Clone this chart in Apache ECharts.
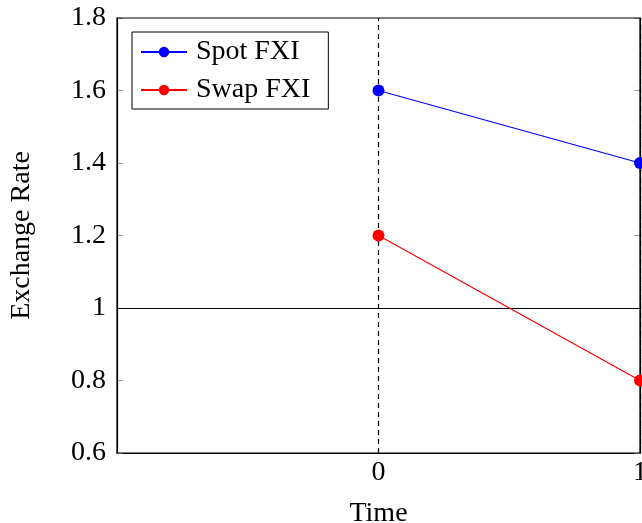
<!DOCTYPE html>
<html>
<head>
<meta charset="utf-8">
<script src="https://cdn.jsdelivr.net/npm/echarts@6/dist/echarts.min.js"></script>
<style>
html, body { margin: 0; padding: 0; background: #fff; }
#chart { width: 642px; height: 523px; }
</style>
</head>
<body>
<div id="chart"></div>
<script>
// data
const timePoints = [0, 1];
const spotFxi = [1.6, 1.4];
const swapFxi = [1.2, 0.8];
const eventTimes = [0, 1];
const parityLevel = 1;
const xTicks = [0, 1];

document.addEventListener('DOMContentLoaded', function () {
    const chart = echarts.init(document.getElementById('chart'));
    const font = '"Liberation Serif", "DejaVu Serif", serif';
    const fs = 28;

    const pairs = vals => timePoints.map((t, i) => [t, vals[i]]);

    chart.setOption({
        animation: false,
        textStyle: { fontFamily: font },
        grid: { left: 117, right: 2, top: 18, bottom: 70, containLabel: false, outerBoundsMode: 'none' },
        legend: {
            left: 132, top: 32,
            orient: 'vertical',
            backgroundColor: '#fff',
            borderColor: '#000', borderWidth: 1, borderRadius: 0,
            padding: [6, 18, 5, 8],
            itemGap: 10,
            itemWidth: 46, itemHeight: 13,
            textStyle: { fontFamily: font, fontSize: fs, color: '#000', padding: [0, 0, 0, 4] },
            data: ['Spot FXI', 'Swap FXI']
        },
        xAxis: {
            type: 'value', min: -1, max: 1, interval: 1,
            name: 'Time', nameLocation: 'middle', nameGap: 47,
            nameTextStyle: { fontFamily: font, fontSize: fs, color: '#000' },
            axisLine: { onZero: false, lineStyle: { color: '#000', width: 1.2 } },
            axisTick: { show: false },
            splitLine: { show: false },
            axisLabel: {
                fontFamily: font, fontSize: fs, color: '#000', margin: 6,
                formatter: v => xTicks.includes(v) ? String(v) : ''
            }
        },
        yAxis: [{
            type: 'value', min: 0.6, max: 1.8, interval: 0.2,
            name: 'Exchange Rate', nameLocation: 'middle', nameGap: 81,
            nameTextStyle: { fontFamily: font, fontSize: fs, color: '#000' },
            axisLine: { onZero: false, lineStyle: { color: '#000', width: 1.2 } },
            axisTick: { inside: true, length: 6, lineStyle: { color: '#999' } },
            splitLine: { show: false },
            axisLabel: {
                fontFamily: font, fontSize: fs, color: '#000', margin: 11,
                formatter: v => String(Math.round(v * 10) / 10)
            }
        }, {
            type: 'value', min: 0.6, max: 1.8, interval: 0.2, position: 'right',
            axisLine: { show: true, onZero: false, lineStyle: { color: '#000', width: 1.2 } },
            axisTick: { inside: true, length: 6, lineStyle: { color: '#999' } },
            axisLabel: { show: false },
            splitLine: { show: false }
        }],
        graphic: [{
            type: 'rect', shape: { x: 117, y: 18, width: 523, height: 435 },
            style: { fill: 'none', stroke: '#000', lineWidth: 1.2 }, silent: true, z: 1
        }],
        series: [{
            name: 'Spot FXI', type: 'line', data: pairs(spotFxi),
            color: '#0000ff', symbol: 'circle', symbolSize: 12,
            lineStyle: { width: 1.2 }, z: 5,
            markLine: {
                silent: true, symbol: 'none', label: { show: false },
                lineStyle: { color: '#000', type: [5, 4], width: 1.2 },
                data: eventTimes.map(t => ({ xAxis: t }))
            }
        }, {
            name: 'Swap FXI', type: 'line', data: pairs(swapFxi),
            color: '#ff0000', symbol: 'circle', symbolSize: 12,
            lineStyle: { width: 1.2 }, z: 5,
            markLine: {
                silent: true, symbol: 'none', label: { show: false },
                lineStyle: { color: '#000', type: 'solid', width: 1.2 },
                data: [{ yAxis: parityLevel }]
            }
        }]
    });
});
</script>
</body>
</html>
